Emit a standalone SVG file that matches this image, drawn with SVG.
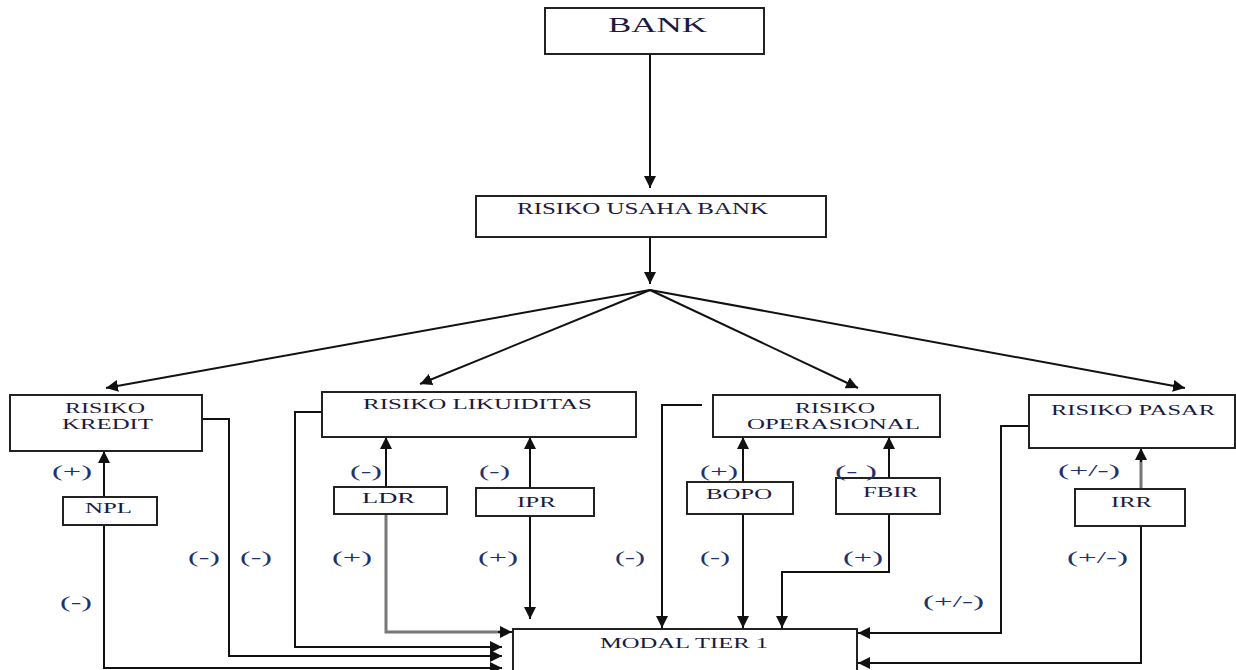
<svg xmlns="http://www.w3.org/2000/svg" width="1236" height="670" viewBox="0 0 1236 670">
<style>
.box{fill:#fff;stroke:#222;stroke-width:2}
.t{font-family:"Liberation Serif","Times New Roman",serif;fill:#1a1a40;font-size:15px}
.lb{font-family:"Liberation Serif","Times New Roman",serif;fill:#24306a;font-size:17px}
.c{fill:none;stroke:#111;stroke-width:2}
.g{fill:none;stroke:#777;stroke-width:3}
</style>
<defs>
<marker id="ah" viewBox="0 0 10 10" refX="10" refY="5" markerWidth="12" markerHeight="12" markerUnits="userSpaceOnUse" orient="auto">
<path d="M0,0 L10,5 L0,10 z" fill="#111"/>
</marker>
</defs>
<rect width="1236" height="670" fill="#fff"/>
<g id="connectors">
<path class="c" d="M650,54 V188" marker-end="url(#ah)"/>
<path class="c" d="M650,237 V284" marker-end="url(#ah)"/>
<path class="c" d="M650,290 L106,388" marker-end="url(#ah)"/>
<path class="c" d="M650,290 L420,384" marker-end="url(#ah)"/>
<path class="c" d="M650,290 L858,388" marker-end="url(#ah)"/>
<path class="c" d="M650,290 L1185,388" marker-end="url(#ah)"/>
<path class="c" d="M104,497 V451" marker-end="url(#ah)"/>
<path class="c" d="M104,525 V668 H502" marker-end="url(#ah)"/>
<path class="c" d="M202,419 H229 V656 H502" marker-end="url(#ah)"/>
<path class="c" d="M322,412 H295 V647 H502" marker-end="url(#ah)"/>
<path class="c" d="M386,487 V437" marker-end="url(#ah)"/>
<path class="g" d="M386,514 V632 H500"/>
<path class="c" d="M498,632 H512" marker-end="url(#ah)"/>
<path class="c" d="M530,488 V437" marker-end="url(#ah)"/>
<path class="c" d="M530,516 V619" marker-end="url(#ah)"/>
<path class="c" d="M702,405 H662 V628" marker-end="url(#ah)"/>
<path class="c" d="M743,482 V437" marker-end="url(#ah)"/>
<path class="c" d="M743,514 V628" marker-end="url(#ah)"/>
<path class="c" d="M889,478 V437" marker-end="url(#ah)"/>
<path class="c" d="M889,514 V572 H782 V628" marker-end="url(#ah)"/>
<path class="c" d="M1029,426 H1001 V633 H858" marker-end="url(#ah)"/>
<path class="g" d="M1141,489 V458"/>
<path class="c" d="M1141,462 V448" marker-end="url(#ah)"/>
<path class="c" d="M1141,526 V663 H858" marker-end="url(#ah)"/>
</g>
<g id="bank">
<rect class="box" x="545" y="8" width="219" height="46"/>
<text class="t" x="608" y="32" style="font-size:21px" textLength="99" lengthAdjust="spacingAndGlyphs">BANK</text>
</g>
<g id="risiko-usaha-bank">
<rect class="box" x="476" y="196" width="350" height="41"/>
<text class="t" x="517" y="214" style="font-size:16px" textLength="251" lengthAdjust="spacingAndGlyphs">RISIKO USAHA BANK</text>
</g>
<g id="risiko-kredit">
<rect class="box" x="10" y="395" width="192" height="56"/>
<text class="t" x="65" y="413" textLength="80" lengthAdjust="spacingAndGlyphs">RISIKO</text>
<text class="t" x="62" y="429" textLength="91" lengthAdjust="spacingAndGlyphs">KREDIT</text>
</g>
<g id="risiko-likuiditas">
<rect class="box" x="322" y="392" width="314" height="45"/>
<text class="t" x="363" y="409" textLength="229" lengthAdjust="spacingAndGlyphs">RISIKO LIKUIDITAS</text>
</g>
<g id="risiko-operasional">
<rect class="box" x="713" y="395" width="227" height="42"/>
<text class="t" x="795" y="413" textLength="80" lengthAdjust="spacingAndGlyphs">RISIKO</text>
<text class="t" x="747" y="429" textLength="173" lengthAdjust="spacingAndGlyphs">OPERASIONAL</text>
</g>
<g id="risiko-pasar">
<rect class="box" x="1029" y="395" width="206" height="53"/>
<text class="t" x="1051" y="415" textLength="164" lengthAdjust="spacingAndGlyphs">RISIKO PASAR</text>
</g>
<g id="npl">
<rect class="box" x="63" y="497" width="94" height="28"/>
<text class="t" x="85" y="513" textLength="47" lengthAdjust="spacingAndGlyphs">NPL</text>
</g>
<g id="ldr">
<rect class="box" x="334" y="487" width="113" height="27"/>
<text class="t" x="362" y="503" textLength="53" lengthAdjust="spacingAndGlyphs">LDR</text>
</g>
<g id="ipr">
<rect class="box" x="476" y="488" width="118" height="28"/>
<text class="t" x="517" y="507" textLength="39" lengthAdjust="spacingAndGlyphs">IPR</text>
</g>
<g id="bopo">
<rect class="box" x="687" y="482" width="106" height="32"/>
<text class="t" x="706" y="499" textLength="66" lengthAdjust="spacingAndGlyphs">BOPO</text>
</g>
<g id="fbir">
<rect class="box" x="836" y="478" width="104" height="36"/>
<text class="t" x="863" y="497" textLength="55" lengthAdjust="spacingAndGlyphs">FBIR</text>
</g>
<g id="irr">
<rect class="box" x="1075" y="489" width="110" height="37"/>
<text class="t" x="1111" y="507" textLength="41" lengthAdjust="spacingAndGlyphs">IRR</text>
</g>
<g id="modal-tier-1">
<rect class="box" x="513" y="629" width="344" height="60"/>
<text class="t" x="600" y="648" textLength="168" lengthAdjust="spacingAndGlyphs">MODAL TIER 1</text>
</g>
<g id="labels">
<text class="lb" x="52" y="477" textLength="40" lengthAdjust="spacingAndGlyphs">(+)</text>
<text class="lb" x="60" y="608" textLength="32" lengthAdjust="spacingAndGlyphs">(-)</text>
<text class="lb" x="188" y="563" textLength="32" lengthAdjust="spacingAndGlyphs">(-)</text>
<text class="lb" x="240" y="563" textLength="32" lengthAdjust="spacingAndGlyphs">(-)</text>
<text class="lb" x="350" y="477" textLength="32" lengthAdjust="spacingAndGlyphs">(-)</text>
<text class="lb" x="479" y="477" textLength="31" lengthAdjust="spacingAndGlyphs">(-)</text>
<text class="lb" x="332" y="563" textLength="40" lengthAdjust="spacingAndGlyphs">(+)</text>
<text class="lb" x="478" y="563" textLength="40" lengthAdjust="spacingAndGlyphs">(+)</text>
<text class="lb" x="615" y="563" textLength="30" lengthAdjust="spacingAndGlyphs">(-)</text>
<text class="lb" x="700" y="477" textLength="38" lengthAdjust="spacingAndGlyphs">(+)</text>
<text class="lb" x="700" y="563" textLength="30" lengthAdjust="spacingAndGlyphs">(-)</text>
<text class="lb" x="835" y="477" textLength="42" lengthAdjust="spacingAndGlyphs">(- )</text>
<text class="lb" x="843" y="563" textLength="40" lengthAdjust="spacingAndGlyphs">(+)</text>
<text class="lb" x="923" y="607" textLength="61" lengthAdjust="spacingAndGlyphs">(+/-)</text>
<text class="lb" x="1058" y="476" textLength="62" lengthAdjust="spacingAndGlyphs">(+/-)</text>
<text class="lb" x="1067" y="563" textLength="61" lengthAdjust="spacingAndGlyphs">(+/-)</text>
</g>
</svg>
